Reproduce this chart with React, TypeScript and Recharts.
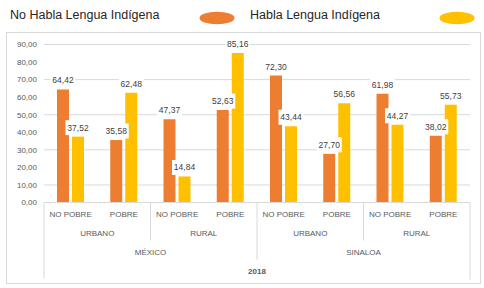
import { BarChart, Bar, XAxis, YAxis, CartesianGrid, LabelList } from 'recharts';

const pobreza = ['NO POBRE', 'POBRE', 'NO POBRE', 'POBRE', 'NO POBRE', 'POBRE', 'NO POBRE', 'POBRE'];
const area = ['URBANO', 'URBANO', 'RURAL', 'RURAL', 'URBANO', 'URBANO', 'RURAL', 'RURAL'];
const entidad = ['MÉXICO', 'MÉXICO', 'MÉXICO', 'MÉXICO', 'SINALOA', 'SINALOA', 'SINALOA', 'SINALOA'];
const anio = '2018';

const noHabla = [64.42, 35.58, 47.37, 52.63, 72.3, 27.7, 61.98, 38.02];
const habla = [37.52, 62.48, 14.84, 85.16, 43.44, 56.56, 44.27, 55.73];

const yTicks = [0, 10, 20, 30, 40, 50, 60, 70, 80, 90];

const series = [
  { key: 'noHabla', name: 'No Habla Lengua Indígena', color: '#ED7D31' },
  { key: 'habla', name: 'Habla Lengua Indígena', color: '#FFC000' },
];

const data = pobreza.map((p, i) => ({
  pobreza: p,
  noHabla: noHabla[i],
  habla: habla[i],
}));

const FONT = '"Liberation Sans", Arial, sans-serif';
const GRID = '#d9d9d9';
const TXT = '#595959';
// plot width / number of categories
const BW = 426 / 8;

const fmt = (v: number) => v.toFixed(2).replace('.', ',');

function CategoryTick(props: any) {
  const { x, y, index } = props;
  const i = index as number;
  const n = pobreza.length;
  const items: any[] = [];

  // group separators
  if (i % 2 === 0) {
    const len = i === 0 ? 76 : i % 4 === 0 ? 57 : 38;
    items.push(<line key="l" x1={x - BW / 2} x2={x - BW / 2} y1={y} y2={y + len} stroke={GRID} />);
  }
  if (i === n - 1) {
    items.push(<line key="r" x1={x + BW / 2} x2={x + BW / 2} y1={y} y2={y + 77} stroke={GRID} />);
  }

  items.push(
    <text key="t1" x={x} y={y + 12} textAnchor="middle" dominantBaseline="central" fontSize={8} fill={TXT}>
      {pobreza[i]}
    </text>
  );
  if (i % 2 === 1) {
    items.push(
      <text key="t2" x={x - BW / 2} y={y + 31} textAnchor="middle" dominantBaseline="central" fontSize={8} fill={TXT}>
        {area[i]}
      </text>
    );
  }
  if (i % 4 === 1) {
    items.push(
      <text key="t3" x={x + BW / 2} y={y + 50} textAnchor="middle" dominantBaseline="central" fontSize={8} fill={TXT}>
        {entidad[i]}
      </text>
    );
  }
  if (i === 3) {
    items.push(
      <text key="t4" x={x + BW / 2} y={y + 69} textAnchor="middle" dominantBaseline="central" fontSize={8} fontWeight="bold" fill={TXT}>
        {anio}
      </text>
    );
  }
  return <g style={{ fontFamily: FONT }}>{items}</g>;
}

function ValueLabel(props: any) {
  const { x, y, width, value } = props;
  const cx = x + width / 2;
  const cy = y - 9;
  return (
    <g>
      <rect x={cx - 12.5} y={cy - 7.5} width={25} height={15} fill="#ffffff" />
      <text x={cx} y={cy} textAnchor="middle" dominantBaseline="central" fontSize={8.5} fill="#404040" style={{ fontFamily: FONT }}>
        {fmt(Number(value))}
      </text>
    </g>
  );
}

export default function App() {
  return (
    <div style={{ position: 'absolute', left: 0, top: 0, width: 484, height: 288, background: '#fff', fontFamily: FONT }}>
      <div style={{ position: 'absolute', left: 6, top: 32, width: 473, height: 250, border: `1px solid ${GRID}` }} />
      {series.map((s, i) => (
        <div key={s.key} style={{ position: 'absolute', left: 10 + i * 240, top: 5, width: 240, height: 20 }}>
          <span style={{ fontSize: 12.5, color: '#262626', lineHeight: '16px' }}>{s.name}</span>
          <svg width={36} height={14} style={{ position: 'absolute', left: 189, top: 6 }}>
            <ellipse cx={18} cy={7} rx={17.5} ry={6.2} fill={s.color} />
          </svg>
        </div>
      ))}
      <div style={{ position: 'absolute', left: 0, top: 0 }}>
        <BarChart
          width={484}
          height={288}
          data={data}
          margin={{ top: 44.5, right: 14, left: 0, bottom: 5.5 }}
          barSize={12}
          barGap={3}
        >
          <CartesianGrid vertical={false} stroke={GRID} />
          <YAxis
            domain={[0, 90]}
            ticks={yTicks}
            width={44}
            axisLine={false}
            tickLine={false}
            tickSize={0}
            tickMargin={7}
            tickFormatter={fmt}
            tick={{ fontSize: 8, fill: TXT, fontFamily: FONT }}
          />
          <XAxis
            dataKey="pobreza"
            height={80}
            interval={0}
            tickLine={false}
            tickSize={0}
            tickMargin={0}
            axisLine={{ stroke: GRID }}
            tick={<CategoryTick />}
          />
          {series.map((s) => (
            <Bar key={s.key} dataKey={s.key} name={s.name} fill={s.color} isAnimationActive={false}>
              <LabelList dataKey={s.key} content={<ValueLabel />} />
            </Bar>
          ))}
        </BarChart>
      </div>
    </div>
  );
}
